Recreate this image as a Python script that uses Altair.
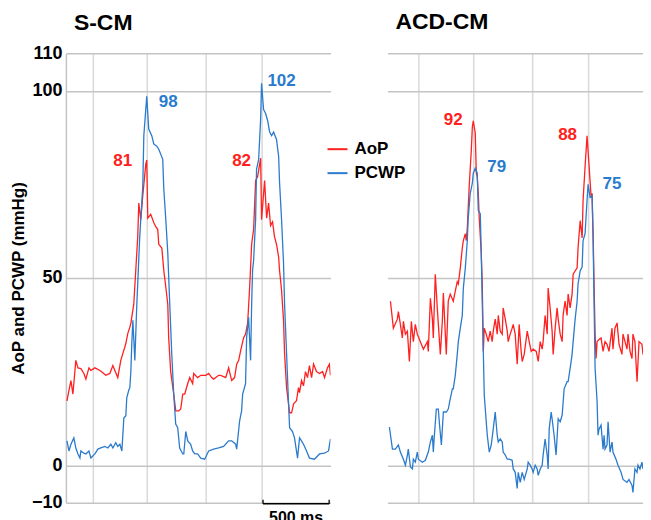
import altair as alt
import pandas as pd

FONT = "Liberation Sans"
RED = "#ff2020"
BLUE = "#2b7bcd"
GRID_H = "#c4c4c4"
GRID_V = "#d9d9d9"

# ---------------- data (time in ms, pressure in mmHg) ----------------
L_AOP_T = [8, 23, 38, 53, 75, 91, 113, 136, 151, 174, 189, 219, 257, 279, 302, 332, 355, 370, 392, 408,
           415, 430, 445, 453, 468, 483, 491, 506, 513, 528, 543, 551, 566, 581, 604, 611, 619, 641, 664, 679,
           694, 702, 725, 740, 755, 770, 777, 792, 815, 830, 853, 868, 883, 898, 921, 936, 958, 966, 996, 1019,
           1057, 1079, 1102, 1117, 1155, 1170, 1208, 1230, 1253, 1275, 1291, 1306, 1321, 1343, 1358, 1374, 1389,
           1404, 1419, 1434, 1449, 1472, 1479, 1502, 1517, 1532, 1547, 1562, 1577, 1592, 1608, 1615, 1630, 1645,
           1653, 1668, 1691, 1706, 1721, 1743, 1758, 1766, 1781, 1796, 1811, 1826, 1841, 1857, 1872, 1894, 1917,
           1940, 1955, 1977, 1992, 2000]
L_AOP_V = [17.2, 20.0, 22.6, 19.0, 28.0, 26.0, 25.8, 24.5, 23.0, 26.0, 25.3, 26.0, 25.3, 24.7, 24.0, 24.5, 26.6, 25.3, 23.4, 26.6,
           28.0, 29.8, 31.5, 32.5, 35.2, 36.8, 37.9, 41.4, 43.0, 52.0, 61.0, 70.0, 65.6, 72.0, 80.5, 81.5, 66.0, 67.0, 64.8, 63.7,
           63.0, 59.0, 58.0, 52.0, 47.6, 43.0, 34.0, 25.0, 19.0, 14.5, 14.5, 15.0, 19.0, 19.0, 21.8, 23.4, 21.8, 24.5, 23.4, 24.0,
           24.0, 24.5, 23.4, 23.0, 24.0, 24.0, 23.4, 26.0, 22.6, 23.4, 27.0, 28.0, 30.6, 34.0, 35.0, 38.0, 47.6,
           59.0, 63.0, 76.0, 77.0, 82.0, 65.6, 76.0, 66.0, 70.0, 64.0, 65.0, 61.0, 59.0, 55.6, 52.0, 46.8, 38.7,
           29.8, 20.7, 14.0, 14.0, 16.4, 17.2, 20.7, 19.4, 22.6, 21.2, 25.0, 23.4, 26.6, 23.4, 27.0, 25.0, 24.5,
           25.0, 23.4, 26.0, 27.0, 24.0]

L_PCWP_T = [8, 23, 38, 60, 75, 91, 106, 113, 136, 151, 174, 189, 219, 242, 264, 294, 317, 340, 355, 377,
            392, 408, 423, 438, 453, 460, 475, 483, 491, 498, 506, 521, 536, 543, 558, 581, 589, 611, 626, 649,
            664, 687, 702, 732, 740, 755, 770, 785, 800, 815, 830, 845, 860, 883, 891, 906, 921, 943, 958, 974,
            996, 1019, 1049, 1079, 1117, 1155, 1192, 1230, 1253, 1283, 1291, 1313, 1328, 1336, 1358, 1366, 1381,
            1396, 1404, 1411, 1419, 1434, 1441, 1457, 1472, 1479, 1494, 1509, 1525, 1540, 1555, 1570, 1592, 1608,
            1615, 1630, 1645, 1653, 1668, 1683, 1691, 1713, 1728, 1751, 1766, 1781, 1796, 1819, 1841, 1879, 1917,
            1955, 1985, 2000]
L_PCWP_V = [6.5, 3.8, 5.6, 7.3, 4.6, 3.0, 1.9, 3.8, 3.2, 3.0, 3.8, 1.9, 3.0, 4.3, 4.6, 5.0, 4.6, 5.6, 4.6, 6.0,
            5.0, 5.6, 3.8, 12.6, 13.2, 18.0, 20.0, 20.7, 25.0, 32.5, 38.7, 28.0, 43.0, 48.6, 61.0, 74.5, 88.0, 98.5, 89.8, 88.0,
            85.8, 85.2, 84.4, 81.7, 73.7, 65.6, 56.7, 43.0, 29.8, 19.0, 11.0, 10.0, 4.6, 3.0, 3.0, 9.0, 6.5, 5.6, 3.8, 3.0,
            3.0, 1.9, 1.6, 3.8, 4.3, 4.6, 5.0, 6.5, 6.5, 5.6, 4.3, 11.8, 14.5, 19.0, 21.8, 34.0, 39.5,
            28.0, 43.0, 52.0, 54.8, 65.6, 79.0, 81.7, 92.5, 102.0, 95.0, 94.0, 92.0, 89.0, 88.0, 89.0, 87.0, 82.5,
            75.5, 65.6, 54.0, 43.0, 29.8, 16.4, 10.0, 9.0, 7.3, 1.9, 7.3, 6.5, 5.6, 3.8, 1.9, 1.6, 3.0,
            3.2, 3.8, 7.0]

R_AOP_T = [23, 45, 75, 83, 98, 113, 121, 136, 151, 166, 181, 196, 211, 226, 249, 272, 302, 309, 325, 340,
           347, 362, 377, 385, 400, 415, 423, 445, 460, 475, 498, 513, 528, 536, 551, 566, 574, 589, 596, 604,
           619, 634, 642, 649, 664, 672, 679, 687, 694, 709, 717, 725, 732, 747, 762, 777, 792, 800, 815, 830,
           838, 853, 868, 875, 891, 906, 913, 928, 943, 951, 966, 981, 996, 1011, 1019, 1034, 1057, 1072, 1087,
           1102, 1125, 1140, 1155, 1170, 1177, 1192, 1208, 1215, 1230, 1245, 1253, 1268, 1283, 1291, 1306, 1321,
           1328, 1343, 1358, 1366, 1381, 1396, 1404, 1434, 1441, 1457, 1472, 1479, 1494, 1509, 1525, 1540, 1547,
           1555, 1562, 1570, 1577, 1585, 1600, 1615, 1630, 1645, 1660, 1675, 1698, 1705, 1720, 1736, 1751, 1773,
           1781, 1796, 1811, 1819, 1834, 1849, 1856, 1871, 1887, 1902, 1924, 1932, 1947, 1962, 1985]
R_AOP_V = [43.8, 36.6, 39.0, 41.0, 37.6, 34.0, 38.4, 35.0, 35.8, 27.7, 38.4, 33.0, 37.6, 35.0, 33.0, 31.0, 33.0, 30.4, 44.6, 39.0,
           34.0, 51.0, 42.0, 37.6, 29.6, 38.4, 46.0, 29.6, 43.8, 45.7, 43.8, 46.5, 49.0, 48.4, 52.7, 58.0, 60.0, 61.8, 60.0, 63.4,
           75.0, 84.0, 90.3, 92.0, 88.7, 78.0, 77.0, 72.6, 66.0, 57.0, 48.4, 30.4, 36.6, 35.0, 33.0, 35.8, 33.0, 35.8, 39.0, 35.0,
           40.0, 35.8, 35.0, 42.0, 39.0, 35.8, 33.0, 35.0, 36.6, 37.6, 35.0, 27.0, 37.6, 30.4, 27.7, 29.6, 35.8, 33.0, 30.4,
           31.0, 30.4, 27.7, 33.0, 31.0, 33.0, 40.0, 35.0, 47.3, 42.0, 35.8, 29.6, 36.6, 42.0, 39.0, 35.0, 33.0,
           40.0, 43.8, 40.0, 45.7, 42.0, 45.7, 51.0, 52.7, 58.0, 65.3, 60.7, 70.7, 79.6, 88.0, 79.6, 71.5, 72.6,
           61.8, 48.4, 35.0, 28.5, 33.0, 33.6, 34.0, 30.4, 33.0, 32.3, 30.4, 36.6, 31.0, 36.6, 38.0, 32.3, 29.6,
           35.0, 33.0, 31.0, 35.0, 30.4, 28.5, 35.0, 33.0, 22.3, 33.0, 32.3, 29.6, 31.0, 30.4, 27.0]

R_PCWP_T = [15, 38, 60, 83, 98, 121, 136, 151, 158, 174, 189, 196, 211, 226, 234, 264, 287, 309, 325, 340,
            347, 355, 370, 385, 392, 408, 423, 445, 460, 475, 491, 498, 513, 528, 536, 551, 566, 574, 589, 604,
            611, 626, 642, 649, 664, 679, 687, 702, 709, 717, 725, 732, 747, 755, 770, 785, 800, 815, 830, 838,
            853, 868, 875, 891, 906, 921, 943, 951, 966, 981, 989, 1004, 1019, 1034, 1057, 1064, 1079, 1094, 1102,
            1117, 1132, 1140, 1155, 1170, 1177, 1192, 1208, 1215, 1223, 1238, 1245, 1260, 1275, 1291, 1306, 1321,
            1336, 1358, 1366, 1381, 1396, 1404, 1419, 1434, 1441, 1457, 1472, 1479, 1494, 1509, 1517, 1532, 1547,
            1555, 1562, 1570, 1585, 1592, 1600, 1615, 1630, 1638, 1645, 1660, 1668, 1683, 1698, 1705, 1728, 1743,
            1766, 1781, 1811, 1826, 1849, 1856, 1871, 1887, 1894, 1909, 1924, 1932, 1947, 1962, 1985]
R_PCWP_V = [10.2, 4.3, 4.3, 5.4, 3.5, 1.6, 0.0, 2.7, 4.3, -0.5, -1.0, 1.6, 0.8, 3.5, 1.6, 0.8, 1.3, 3.5, 6.2, 8.0,
            3.5, 8.0, 15.0, 15.0, 11.6, 5.4, 14.2, 14.2, 15.0, 17.7, 20.4, 20.4, 24.0, 29.6, 33.0, 36.6, 40.0, 47.3, 52.7, 60.0,
            66.0, 72.6, 75.3, 78.0, 79.3, 78.0, 68.0, 67.2, 57.2, 43.8, 30.4, 18.8, 11.6, 8.0, 3.5, 5.4, 9.7, 14.2, 8.0, 6.2,
            7.0, 6.2, 3.5, 2.7, 1.6, 1.6, 1.3, -1.0, -1.9, -6.2, -1.9, -4.6, -1.9, -3.8, -1.0, 0.8, 0.0, -1.0, -1.9,
            0.0, -1.0, -2.7, -1.0, 0.0, 2.7, 7.0, 2.7, -1.0, 9.7, 14.2, 12.4, 8.0, 2.7, 12.4, 11.6, 13.4,
            20.4, 22.3, 22.3, 25.8, 29.6, 33.0, 39.0, 43.8, 48.4, 51.9, 53.0, 60.0, 61.8, 70.7, 75.0, 71.5, 72.0,
            60.0, 43.8, 25.8, 17.0, 8.0, 9.7, 10.7, 4.3, 8.0, 4.3, 5.4, 11.6, 3.5, 6.2, 3.5, 1.6, 0.0,
            -1.9, -3.8, -4.6, -3.8, -5.4, -7.3, -1.0, -1.9, 0.0, -1.0, 0.8, -1.0, 0.8, -0.5, 0.0]

SERIES = ["AoP", "PCWP"]
Y_TICKS = [-10, 0, 50, 100, 110]
L_XGRID = [204, 609, 1059, 1481]
R_XGRID = [236, 651, 1097, 1519]

L_LABELS = ["81", "98", "82", "102"]
L_LABEL_T = [430, 774, 1328, 1630]
L_LABEL_V = [81.2, 97.0, 81.2, 102.7]
L_LABEL_S = ["AoP", "PCWP", "AoP", "PCWP"]

R_LABELS = ["92", "79", "88", "75"]
R_LABEL_T = [498, 826, 1362, 1698]
R_LABEL_V = [92.3, 79.6, 88.2, 75.1]
R_LABEL_S = ["AoP", "PCWP", "AoP", "PCWP"]

SCALEBAR_T = [1490, 1990]
SCALEBAR_TEXT = "500 ms"

COLORS = {"AoP": RED, "PCWP": BLUE}


def traces(t_a, v_a, t_p, v_p):
    a = pd.DataFrame({"t": t_a, "v": v_a, "series": "AoP"})
    p = pd.DataFrame({"t": t_p, "v": v_p, "series": "PCWP"})
    return pd.concat([a, p], ignore_index=True)


def labels_df(lab, t, v, s):
    return pd.DataFrame({"t": t, "v": v, "label": lab, "col": [COLORS[k] for k in s]})


def panel(title, tr, lab, xmax, width, xgrid, left_axis, legend, title_offset):
    x = alt.X("t:Q", scale=alt.Scale(domain=[0, xmax], nice=False, zero=False),
              axis=alt.Axis(values=xgrid, grid=True, gridColor=GRID_V, gridWidth=1.5,
                            labels=False, ticks=False, domain=False, title=None))
    if left_axis:
        yaxis = alt.Axis(values=Y_TICKS, grid=True, gridColor=GRID_H, gridWidth=1.5,
                         ticks=False, domain=True, domainColor=GRID_H, domainWidth=1.5,
                         labelFont=FONT, labelFontSize=18, labelFontWeight="bold",
                         labelColor="black", labelPadding=4,
                         labelExpr="datum.value < 0 ? '\u2212' + abs(datum.value) : datum.label",
                         title="AoP and PCWP (mmHg)", titleFont=FONT, titleFontSize=17,
                         titleFontWeight="bold", titleColor="black", titlePadding=4)
    else:
        yaxis = alt.Axis(values=Y_TICKS, grid=True, gridColor=GRID_H, gridWidth=1.5,
                         ticks=False, domain=False, labels=False, title=None)
    y = alt.Y("v:Q", scale=alt.Scale(domain=[-10, 110], nice=False, zero=False), axis=yaxis)

    if legend:
        leg = alt.Legend(orient="none", legendX=261, legendY=85, title=None,
                         symbolType="stroke", symbolStrokeWidth=2, symbolSize=400,
                         labelFont=FONT, labelFontSize=17, labelFontWeight="bold",
                         labelColor="black", labelOffset=6, rowPadding=5)
    else:
        leg = None

    lines = alt.Chart(tr).mark_line(strokeWidth=1.3, clip=True).encode(
        x=x, y=y,
        color=alt.Color("series:N", scale=alt.Scale(domain=SERIES, range=[RED, BLUE]), legend=leg),
        detail="series:N",
    )
    text = alt.Chart(lab).mark_text(font=FONT, fontSize=17, fontWeight="bold",
                                    align="center", baseline="middle").encode(
        x=x, y=y, text="label:N", color=alt.Color("col:N", scale=None))
    layers = [lines, text]
    if left_axis:
        bar = pd.DataFrame({"t": [SCALEBAR_T[0]], "t2": [SCALEBAR_T[1]], "v": [-10.3]})
        layers.append(alt.Chart(bar).mark_rule(color="black", strokeWidth=1.3).encode(
            x=x, x2="t2:Q", y=y))
        ends = pd.DataFrame({"t": SCALEBAR_T, "v": [-10.3, -10.3], "v2": [-9.2, -9.2]})
        layers.append(alt.Chart(ends).mark_rule(color="black", strokeWidth=1.3).encode(
            x=x, y=y, y2="v2:Q"))
        txt = pd.DataFrame({"t": [sum(SCALEBAR_T) / 2], "v": [-14.0], "label": [SCALEBAR_TEXT]})
        layers.append(alt.Chart(txt).mark_text(font=FONT, fontSize=16, fontWeight="bold",
                                               baseline="middle", color="black").encode(
            x=x, y=y, text="label:N"))
    return alt.layer(*layers).properties(
        width=width, height=450,
        title=alt.TitleParams(title, anchor="start", frame="group", font=FONT, fontSize=23,
                              fontWeight="bold", color="black", offset=title_offset, dx=8),
    )


left = panel("S-CM", traces(L_AOP_T, L_AOP_V, L_PCWP_T, L_PCWP_V),
             labels_df(L_LABELS, L_LABEL_T, L_LABEL_V, L_LABEL_S),
             2000, 265, L_XGRID, True, True, 9)
right = panel("ACD-CM", traces(R_AOP_T, R_AOP_V, R_PCWP_T, R_PCWP_V),
              labels_df(R_LABELS, R_LABEL_T, R_LABEL_V, R_LABEL_S),
              1932, 256, R_XGRID, False, False, 19)

chart = alt.hconcat(left, right, spacing=57, bounds="flush").resolve_scale(
    x="independent", y="independent", color="independent"
).properties(
    padding={"left": 1, "top": 3, "right": 0, "bottom": 0}
).configure_view(stroke=None)

chart.save("out.html", embed_options={"renderer": "svg", "actions": False})
